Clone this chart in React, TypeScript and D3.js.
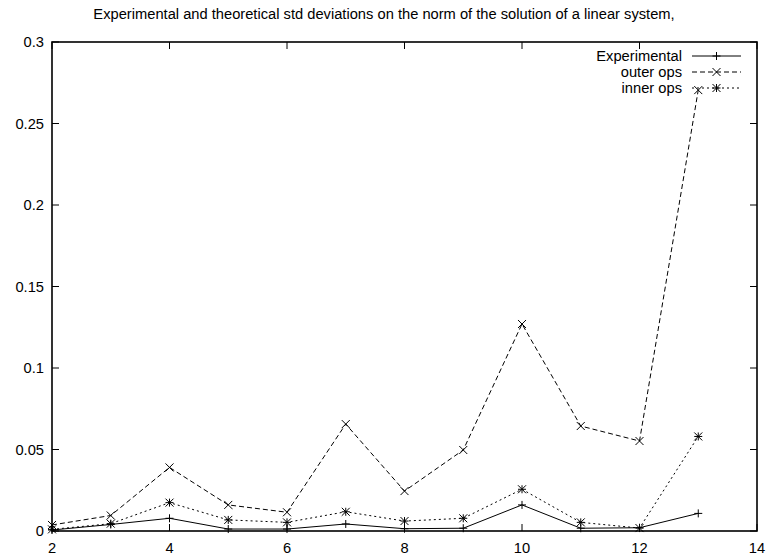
import { useEffect, useRef } from "react";
import * as d3 from "d3";

const xs = [2, 3, 4, 5, 6, 7, 8, 9, 10, 11, 12, 13];
const experimental = [0.0006, 0.004, 0.0078, 0.0012, 0.0012, 0.0043, 0.0014, 0.0017, 0.016, 0.0017, 0.002, 0.0108];
const outerOps = [0.0037, 0.0095, 0.039, 0.016, 0.0115, 0.0656, 0.0245, 0.0497, 0.127, 0.0644, 0.0552, 0.2705];
const innerOps = [0.001, 0.0045, 0.0174, 0.0068, 0.0053, 0.0118, 0.0061, 0.0078, 0.0256, 0.0053, 0.0018, 0.058];
const xTicks = [2, 4, 6, 8, 10, 12, 14];
const yTicks = [0, 0.05, 0.1, 0.15, 0.2, 0.25, 0.3];
const yTickLabels = ["0", "0.05", "0.1", "0.15", "0.2", "0.25", "0.3"];
const seriesNames = ["Experimental", "outer ops", "inner ops"];

const title = "Experimental and theoretical std deviations on the norm of the solution of a linear system,";

const App = () => {
  const ref = useRef(null);

  useEffect(() => {
    const width = 769;
    const height = 559;
    const left = 52, right = 757, top = 42, bottom = 531;
    const font = "'Liberation Sans', Arial, Helvetica, sans-serif";
    const fs = "14.7px";

    const svg = d3.select(ref.current);
    svg.selectAll("*").remove();
    svg.attr("width", width).attr("height", height).style("display", "block");

    const x = d3.scaleLinear().domain([2, 14]).range([left, right]);
    const y = d3.scaleLinear().domain([0, 0.3]).range([bottom, top]);

    svg.append("rect").attr("width", width).attr("height", height).attr("fill", "#fff");

    // title
    svg.append("text")
      .attr("x", 384)
      .attr("y", 19)
      .attr("text-anchor", "middle")
      .style("font-family", font)
      .style("font-size", fs)
      .text(title);

    const tick = 7;
    const g = svg.append("g");

    // ticks (mirrored like gnuplot)
    xTicks.forEach(t => {
      g.append("line").attr("x1", x(t)).attr("x2", x(t)).attr("y1", bottom).attr("y2", bottom - tick)
        .attr("stroke", "#000");
      g.append("line").attr("x1", x(t)).attr("x2", x(t)).attr("y1", top).attr("y2", top + tick)
        .attr("stroke", "#000");
      g.append("text").attr("x", x(t)).attr("y", bottom + 22).attr("text-anchor", "middle")
        .style("font-family", font).style("font-size", fs).text(t);
    });
    yTicks.forEach((t, i) => {
      g.append("line").attr("x1", left).attr("x2", left + tick).attr("y1", y(t)).attr("y2", y(t))
        .attr("stroke", "#000");
      g.append("line").attr("x1", right).attr("x2", right - tick).attr("y1", y(t)).attr("y2", y(t))
        .attr("stroke", "#000");
      g.append("text").attr("x", left - 8).attr("y", y(t) + 5.2).attr("text-anchor", "end")
        .style("font-family", font).style("font-size", fs).text(yTickLabels[i]);
    });

    g.append("rect").attr("x", left).attr("y", top).attr("width", right - left).attr("height", bottom - top)
      .attr("fill", "none").attr("stroke", "#000").attr("stroke-width", 1.6);

    const m = 4;
    const plus = (sel, cx, cy) => {
      sel.append("path").attr("d", `M${cx - m},${cy}H${cx + m}M${cx},${cy - m}V${cy + m}`)
        .attr("stroke", "#000").attr("fill", "none");
    };
    const cross = (sel, cx, cy) => {
      sel.append("path").attr("d", `M${cx - m},${cy - m}L${cx + m},${cy + m}M${cx - m},${cy + m}L${cx + m},${cy - m}`)
        .attr("stroke", "#000").attr("fill", "none");
    };
    const star = (sel, cx, cy) => { plus(sel, cx, cy); cross(sel, cx, cy); };

    const series = [
      { values: experimental, dash: null, mark: plus },
      { values: outerOps, dash: "5,3", mark: cross },
      { values: innerOps, dash: "2,3", mark: star }
    ];

    const line = d3.line().x(d => x(d[0])).y(d => y(d[1]));

    const legendY = [56, 72, 88];
    const legendX1 = 692, legendX2 = 741, legendTextX = 682;

    series.forEach((s, i) => {
      const pts = xs.map((v, j) => [v, s.values[j]]);
      const sg = svg.append("g");
      const p = sg.append("path").attr("d", line(pts)).attr("fill", "none").attr("stroke", "#000").attr("stroke-width", 1);
      if (s.dash) p.attr("stroke-dasharray", s.dash);
      pts.forEach(d => s.mark(sg, x(d[0]), y(d[1])));

      // legend
      sg.append("text").attr("x", legendTextX).attr("y", legendY[i] + 5.2).attr("text-anchor", "end")
        .style("font-family", font).style("font-size", fs).text(seriesNames[i]);
      const l = sg.append("line").attr("x1", legendX1).attr("x2", legendX2).attr("y1", legendY[i]).attr("y2", legendY[i])
        .attr("stroke", "#000");
      if (s.dash) l.attr("stroke-dasharray", s.dash);
      s.mark(sg, (legendX1 + legendX2) / 2, legendY[i]);
    });
  }, []);

  return (
    <div style={{ position: "fixed", left: 0, top: 0, width: 769, height: 559, overflow: "hidden" }}>
      <svg ref={ref}></svg>
    </div>
  );
};

export default App;
